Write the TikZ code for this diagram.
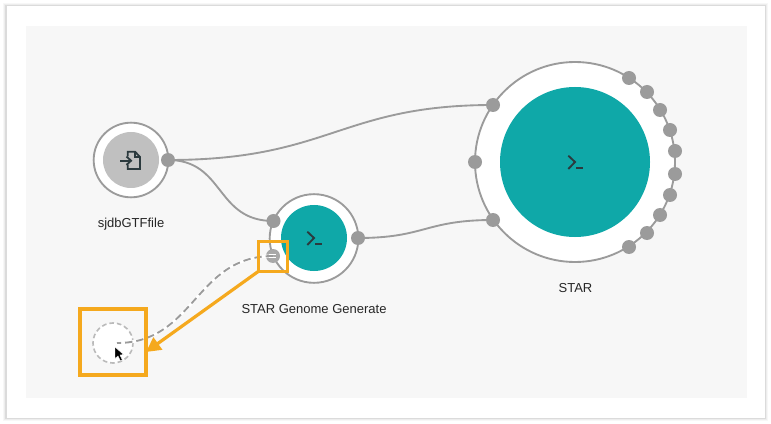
\documentclass[tikz,border=0pt]{standalone}
\usepackage{fontspec}
\setmainfont{Liberation Sans}
\usetikzlibrary{arrows.meta}
\definecolor{linegray}{HTML}{9B9B9B}
\definecolor{portgray}{HTML}{9B9B9B}
\definecolor{lightport}{HTML}{A8A8A8}
\definecolor{teal1}{HTML}{0FA8A8}
\definecolor{inputgray}{HTML}{C0C0C0}
\definecolor{panel}{HTML}{F7F7F7}
\definecolor{orange1}{HTML}{F5A91E}
\definecolor{icon}{HTML}{2B3A3E}
\tikzset{
  disc/.style={circle,inner sep=0pt,outer sep=0pt},
  outerring/.style={disc,draw=linegray,line width=1.4pt,fill=white},
  port/.style={disc,fill=portgray,minimum size=10.5pt},
  wire/.style={draw=linegray,line width=1.4pt},
  dashwire/.style={draw=linegray,line width=1.4pt,dash pattern=on 5.5pt off 3pt},
  hilite/.style={draw=orange1,line width=2.4pt,inner sep=0pt,outer sep=0pt},
  label/.style={inner sep=0pt,font=\fontsize{9.75}{11}\selectfont,text=black!85},
  glyph/.style={draw=icon,line width=1.4pt,line join=miter}
}
\begin{document}
\begin{tikzpicture}[x=0.75pt,y=-0.75pt]
\useasboundingbox (0,0) rectangle (771,424);
% window with soft shadow
\fill[black!3] (3,3) rectangle (768,421);
\fill[black!7] (4,4) rectangle (767,420);
\fill[black!14] (5,5) rectangle (766,419);
\fill[white] (6.5,6.5) rectangle (765,418);
\fill[panel] (26,26) rectangle (747,398);
% nodes
\node[outerring,minimum size=150pt] (starring) at (575,162) {};
\node[disc,fill=teal1,minimum size=112.5pt] (starcore) at (575,162) {};
\node[outerring,minimum size=56pt] (inring) at (131,160) {};
\node[disc,fill=inputgray,minimum size=42pt] (incore) at (131,160) {};
\node[outerring,minimum size=66.5pt] (genring) at (314,238.5) {};
\node[disc,fill=teal1,minimum size=49.5pt] (gencore) at (314,238) {};
\node[disc,draw=black!27,fill=white,line width=1.2pt,dash pattern=on 3.5pt off 2.2pt,minimum size=30pt] (ghost) at (113,343) {};
% ports
\node[port] (inout) at (168,160) {};
\node[port] (genin) at (273.5,221) {};
\node[port] (genout) at (358,238) {};
\node[port,fill=lightport] (gendrag) at (273,256) {};
\node[port] (sa) at (493,105) {};
\node[port] (sb) at (475,162) {};
\node[port] (sc) at (493,220) {};
\node[port] (o1) at (629,78) {};
\node[port] (o2) at (647,92) {};
\node[port] (o3) at (660,110) {};
\node[port] (o4) at (670,130) {};
\node[port] (o5) at (675,151) {};
\node[port] (o6) at (675,174) {};
\node[port] (o7) at (670,195) {};
\node[port] (o8) at (660,215) {};
\node[port] (o9) at (647,233) {};
\node[port] (o10) at (629,247) {};
% connectors
\draw[wire] (inout.center) .. controls (330,160) and (340,105) .. (sa.center);
\draw[wire] (inout.center) .. controls (225,160) and (215,221) .. (genin.center);
\draw[wire] (genout.center) .. controls (425,238) and (425,220) .. (sc.center);
\coordinate (ghostend) at (117,343);
\draw[white,line width=2.2pt] (gendrag.center) .. controls (195,256) and (195,343) .. (ghostend);
\draw[dashwire] (gendrag.center) .. controls (195,256) and (195,343) .. (ghostend);
\draw[white,line width=1pt] (268.5,254.5) -- (276,254.5) (268.5,257.5) -- (276,257.5);
% icons
\draw[glyph] (307.3,231.7) -- (314,238) -- (307.3,245);
\draw[glyph] (315,244.3) -- (321.7,244.3);
\draw[glyph] (568.3,155.7) -- (575,162) -- (568.3,169);
\draw[glyph] (576.3,168.3) -- (582.7,168.3);
\draw[glyph] (127.7,156.5) -- (127.7,151.7) -- (135,151.7) -- (140,157) -- (140,169) -- (127.7,169) -- (127.7,165);
\draw[glyph,line width=1pt] (135,151.7) -- (135,157) -- (140,157);
\draw[glyph] (120,160.7) -- (130.5,160.7);
\draw[glyph] (126.5,156.5) -- (131,160.7) -- (126.5,165);
% highlights
\node[hilite,minimum width=21.5pt,minimum height=22pt] (hismall) at (273,256.5) {};
\node[hilite,minimum width=49.5pt,minimum height=49.5pt] (hibig) at (113,342) {};
\draw[orange1,line width=2.4pt,-{Triangle[length=11pt,width=11pt]}] (hismall.south west) -- (hibig.east |- 0,352);
% cursor
\fill[black,draw=white,line width=0.3pt] (115,347) -- (115,358.5) -- (118,356) -- (120.5,361) -- (122.3,360) -- (120,355) -- (123.5,354.5) -- cycle;
% labels
\node[label] (l1) at (131,224) {sjdbGTFfile};
\node[label] (l2) at (314,309) {STAR Genome Generate};
\node[label] (l3) at (575.5,288) {STAR};
\end{tikzpicture}
\end{document}
